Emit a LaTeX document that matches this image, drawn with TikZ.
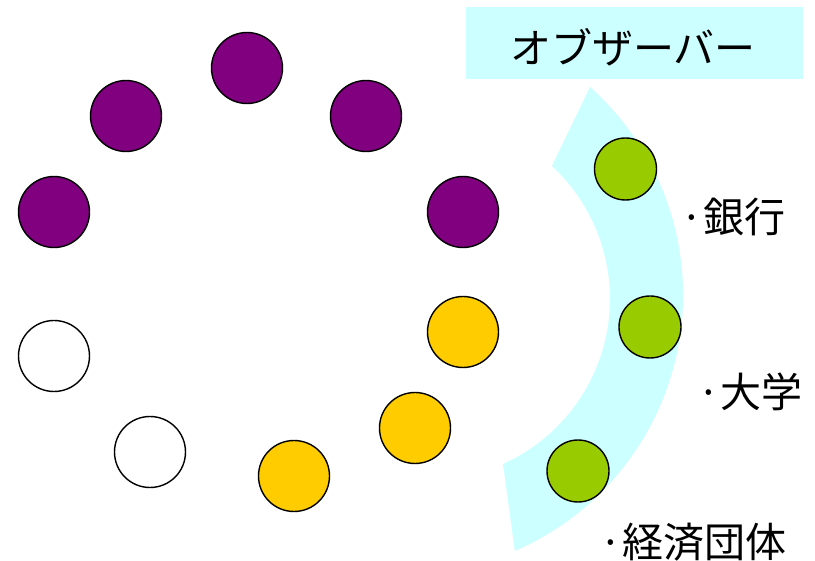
\documentclass[tikz,border=0pt]{standalone}
\usepackage{fontspec}
\newfontfamily\jp{Noto Sans CJK JP}
\definecolor{bandcyan}{HTML}{CCFFFF}
\definecolor{ballpurple}{HTML}{800080}
\definecolor{ballyellow}{HTML}{FFCC00}
\definecolor{ballgreen}{HTML}{99CC00}
\begin{document}
\begin{tikzpicture}[x=1pt,y=1pt,
  ball/.style={circle,draw=black,line width=1.4pt,inner sep=0pt,minimum size=71pt},
  smallball/.style={circle,draw=black,line width=1.4pt,inner sep=0pt,minimum size=62pt,fill=ballgreen},
  label/.style={font=\jp\fontsize{41}{41}\selectfont,inner sep=0pt,anchor=west}]
\useasboundingbox (0,0) rectangle (815,-561);
% observer band
\fill[bandcyan] (590,-87) arc[start angle=48.2,end angle=-66.6,radius=279pt]
  -- (503,-464) arc[start angle=-65.85,end angle=47.2,radius=181pt] -- cycle;
% title
\node (titlebox) [fill=bandcyan,inner sep=0pt,minimum width=337pt,minimum height=72pt] at (634.5,-43) {};
\node (title) [font=\jp\fontsize{41}{41}\selectfont,inner sep=0pt] at (633,-47) {オブザーバー};
% ring of members
\node (p1) [ball,fill=ballpurple] at (247,-68) {};
\node (p2) [ball,fill=ballpurple] at (126,-116) {};
\node (p3) [ball,fill=ballpurple] at (366,-116) {};
\node (p4) [ball,fill=ballpurple] at (54,-212) {};
\node (p5) [ball,fill=ballpurple] at (463,-212) {};
\node (y1) [ball,fill=ballyellow] at (463,-332) {};
\node (y2) [ball,fill=ballyellow] at (415,-428) {};
\node (y3) [ball,fill=ballyellow] at (294,-476) {};
\node (w1) [ball,fill=white] at (54,-356) {};
\node (w2) [ball,fill=white] at (150,-452) {};
% observers
\node (g1) [smallball] at (625.5,-169) {};
\node (g2) [smallball] at (650,-327) {};
\node (g3) [smallball] at (578,-471) {};
% labels
\node (l1) [label] at (680,-217) {·銀行};
\node (l2) [label] at (697,-392) {·大学};
\node (l3) [label] at (599,-542) {·経済団体};
\end{tikzpicture}
\end{document}
